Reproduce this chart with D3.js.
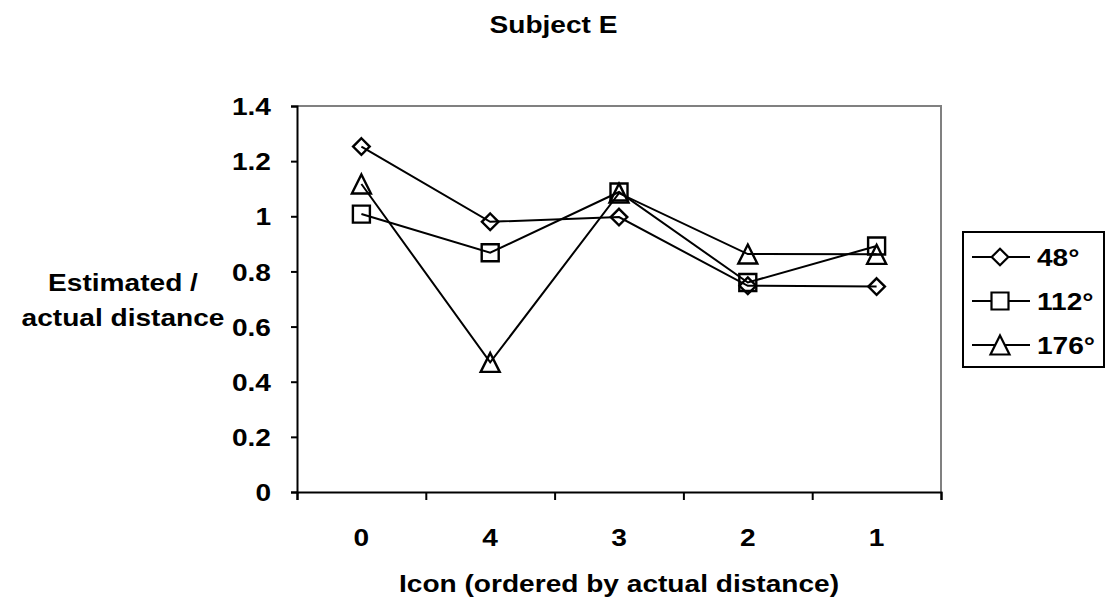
<!DOCTYPE html>
<html>
<head>
<meta charset="utf-8">
<script src="https://cdn.jsdelivr.net/npm/d3@7"></script>
<style>
  html, body { margin: 0; padding: 0; background: #fff; }
  svg text { font-family: "Liberation Sans", Arial, sans-serif; font-weight: bold; fill: #000; }
</style>
</head>
<body>
<svg id="chart" width="1107" height="607"></svg>
<script>
const categories = ["0", "4", "3", "2", "1"];
const seriesNames = ["48°", "112°", "176°"];
const values48 = [1.253, 0.980, 0.997, 0.748, 0.745];
const values112 = [1.008, 0.868, 1.088, 0.760, 0.892];
const values176 = [1.117, 0.470, 1.084, 0.863, 0.862];
const yTicks = [0, 0.2, 0.4, 0.6, 0.8, 1, 1.2, 1.4];
const markerTypes = ["diamond", "square", "triangle"];

const FS = 24, SX = 1.17;
const svg = d3.select("#chart");
const W = 1107, H = 607;
const margin = {left: 297, right: W - 941, top: 106, bottom: H - 492};

const x = d3.scaleBand().domain(categories).range([margin.left, W - margin.right]);
const y = d3.scaleLinear().domain([0, 1.4]).range([H - margin.bottom, margin.top]);
const cx = d => x(d) + x.bandwidth() / 2;

// plot area border (gray top/right)
svg.append("path")
  .attr("d", `M${x.range()[0]},${y(1.4)}H${x.range()[1]}V${y(0)}`)
  .attr("fill", "none").attr("stroke", "#808080").attr("stroke-width", 2);

// Y axis
const yAxis = svg.append("g").attr("transform", `translate(${x.range()[0]},0)`)
  .call(d3.axisLeft(y).tickValues(yTicks).tickSize(6).tickPadding(20)
    .tickFormat(d => String(+d.toFixed(1))));
yAxis.select(".domain").attr("stroke", "#000").attr("stroke-width", 2);
yAxis.selectAll(".tick line").attr("stroke", "#000").attr("stroke-width", 2);
yAxis.selectAll("text").attr("font-size", FS).attr("font-family", null).attr("dy", "0.36em");

// X axis: ticks at band boundaries
const xb = d3.scaleLinear().domain([0, categories.length]).range(x.range());
const xAxis = svg.append("g").attr("transform", `translate(0,${y(0)})`)
  .call(d3.axisBottom(xb).ticks(categories.length).tickSize(8).tickFormat(""));
xAxis.select(".domain").attr("stroke", "#000").attr("stroke-width", 2);
xAxis.selectAll(".tick line").attr("stroke", "#000").attr("stroke-width", 2);

svg.append("g").selectAll("text").data(categories).join("text")
  .attr("x", d => cx(d))
  .attr("y", y(0) + 54)
  .attr("text-anchor", "middle")
  .attr("font-size", FS)
  .text(d => d);

// titles
svg.append("text").attr("x", W / 2).attr("y", 33).attr("text-anchor", "middle")
  .attr("font-size", FS).text("Subject E");
svg.append("text").attr("x", (x.range()[0] + x.range()[1]) / 2).attr("y", 592).attr("text-anchor", "middle")
  .attr("font-size", FS).text("Icon (ordered by actual distance)");
svg.append("text").attr("x", 123).attr("y", 291).attr("text-anchor", "middle")
  .attr("font-size", FS).text("Estimated /");
svg.append("text").attr("x", 123).attr("y", 326).attr("text-anchor", "middle")
  .attr("font-size", FS).text("actual distance");

// markers
function markerPath(type, s) {
  if (type === "diamond") return `M0,${-s}L${s},0L0,${s}L${-s},0Z`;
  if (type === "square") return `M${-s},${-s}H${s}V${s}H${-s}Z`;
  return `M0,${-s}L${s},${s}H${-s}Z`;
}
const sizes = [8.3, 8.5, 9.5];

const allSeries = [values48, values112, values176];
const line = d3.line().x((d, i) => cx(categories[i])).y(d => y(d));

allSeries.forEach((vals, si) => {
  const g = svg.append("g");
  g.append("path").attr("d", line(vals)).attr("fill", "none")
    .attr("stroke", "#000").attr("stroke-width", 2);
  g.selectAll("path.m").data(vals).join("path").attr("class", "m")
    .attr("transform", (d, i) => `translate(${cx(categories[i])},${y(d)})`)
    .attr("d", markerPath(markerTypes[si], sizes[si]))
    .attr("fill", "none").attr("stroke", "#000").attr("stroke-width", 2.4);
});

// legend
const lg = svg.append("g").attr("transform", "translate(963,232)");
lg.append("rect").attr("x", 0).attr("y", 0).attr("width", 141).attr("height", 135)
  .attr("fill", "#fff").attr("stroke", "#000").attr("stroke-width", 2);
seriesNames.forEach((name, i) => {
  const cy = 25 + i * 44;
  lg.append("line").attr("x1", 9).attr("x2", 67).attr("y1", cy).attr("y2", cy)
    .attr("stroke", "#000").attr("stroke-width", 2);
  lg.append("path").attr("transform", `translate(37,${cy})`)
    .attr("d", markerPath(markerTypes[i], sizes[i]))
    .attr("fill", "#fff").attr("stroke", "#000").attr("stroke-width", 2.2);
  lg.append("text").attr("x", 74).attr("y", cy + 9).attr("font-size", FS).text(name);
});

// horizontal widening of all texts to match the reference's letter widths
svg.selectAll("text").each(function () {
  const len = this.getComputedTextLength();
  d3.select(this).attr("textLength", len * SX).attr("lengthAdjust", "spacingAndGlyphs");
});
</script>
</body>
</html>
